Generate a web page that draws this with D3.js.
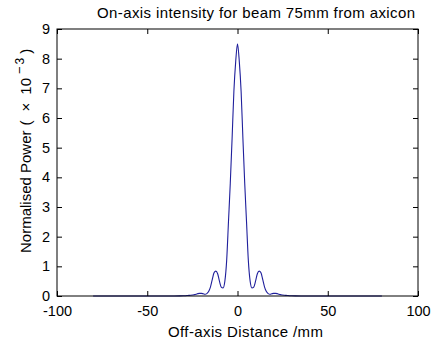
<!DOCTYPE html>
<html><head><meta charset="utf-8">
<script src="https://cdn.jsdelivr.net/npm/d3@7"></script>
<style>body{margin:0;background:#fff}svg{display:block}text{font-family:"Liberation Sans",Arial,sans-serif;fill:#000}</style>
</head><body>
<svg id="c" width="436" height="345"></svg>
<script>
// Data: off-axis distance (mm) and normalised power (x1e-3)
const distance = [-80,-40,-32,-30,-29,-28,-27,-26,-25,-24,-23,-22,-21,-20,-19,-18,-17,-16,-15,-14,-13,-12,-11,-10,-9,-8,-7,-6,-5,-4,-3,-2,-1,0,
  1,2,3,4,5,6,7,8,9,10,11,12,13,14,15,16,17,18,19,20,21,22,23,24,25,26,27,28,29,30,32,40,80];
const power = [0,0,0.003,0.006,0.01,0.015,0.02,0.025,0.032,0.045,0.06,0.08,0.09,0.088,0.075,0.06,0.08,0.15,0.3,0.55,0.78,0.84,0.75,0.5,0.3,0.27,0.5,1.2,2.5,3.8,5.3,6.9,7.9,8.5,
  7.9,6.9,5.3,3.8,2.5,1.2,0.5,0.27,0.3,0.5,0.75,0.84,0.78,0.55,0.3,0.15,0.08,0.06,0.075,0.088,0.09,0.08,0.06,0.045,0.032,0.025,0.02,0.015,0.01,0.006,0.003,0,0];
const xTicks = [-100,-50,0,50,100];
const yTicks = [0,1,2,3,4,5,6,7,8,9];

const svg = d3.select("#c");
const L=57, R=418, T=29, B=296;
const x = d3.scaleLinear().domain([-100,100]).range([L,R]);
const y = d3.scaleLinear().domain([0,9]).range([B,T]);
const tl = 5;

// curve
const line = d3.line().x((d,i)=>x(distance[i])).y(d=>y(d)).curve(d3.curveMonotoneX);
svg.append("path").datum(power).attr("d",line).attr("fill","none")
  .attr("stroke","#20209c").attr("stroke-width",1.1);

// axes
const gx = svg.append("g").attr("transform",`translate(0,${B})`)
  .call(d3.axisBottom(x).tickValues(xTicks).tickSizeInner(-tl).tickSizeOuter(0).tickPadding(10).tickFormat(d3.format("d")));
const gxt = svg.append("g").attr("transform",`translate(0,${T})`)
  .call(d3.axisTop(x).tickValues(xTicks).tickSizeInner(-tl).tickSizeOuter(0).tickFormat(""));
const gy = svg.append("g").attr("transform",`translate(${L},0)`)
  .call(d3.axisLeft(y).tickValues(yTicks).tickSizeInner(-tl).tickSizeOuter(0).tickPadding(7).tickFormat(d3.format("d")));
const gyr = svg.append("g").attr("transform",`translate(${R},0)`)
  .call(d3.axisRight(y).tickValues(yTicks).tickSizeInner(-tl).tickSizeOuter(0).tickFormat(""));
[gx,gxt,gy,gyr].forEach(g=>{
  g.select(".domain").remove();
  g.selectAll("line").attr("stroke","#000");
  g.selectAll("text").style("font-size","14.5px").attr("fill","#000");
});
gx.selectAll("text").text(d=>d<0?"-"+Math.abs(d):d);
svg.append("rect").attr("x",L).attr("y",T).attr("width",R-L).attr("height",B-T)
  .attr("fill","none").attr("stroke","#000").attr("stroke-width",1);

// title
svg.append("text").attr("x",256).attr("y",18).attr("text-anchor","middle")
  .attr("textLength",318).attr("lengthAdjust","spacing")
  .style("font-size","15px").text("On-axis intensity for beam 75mm from axicon");
// x label
svg.append("text").attr("x",245.5).attr("y",337).attr("text-anchor","middle")
  .attr("textLength",155).attr("lengthAdjust","spacing")
  .style("font-size","15px").text("Off-axis Distance /mm");
// y label
const yl = svg.append("text").attr("transform","translate(31,253) rotate(-90)")
  .attr("text-anchor","start").style("font-size","15px");
yl.append("tspan").text("Normalised Power");
yl.append("tspan").attr("dx",5).text("(");
yl.append("tspan").attr("dx",9).text("\u00d7");
yl.append("tspan").attr("dx",8).text("10");
yl.append("tspan").attr("dx",4).attr("dy",-7).style("font-size","13px").text("\u2212");
yl.append("tspan").attr("dx",2).style("font-size","12px").text("3");
yl.append("tspan").attr("dx",4).attr("dy",7).text(")");
</script>
</body></html>
